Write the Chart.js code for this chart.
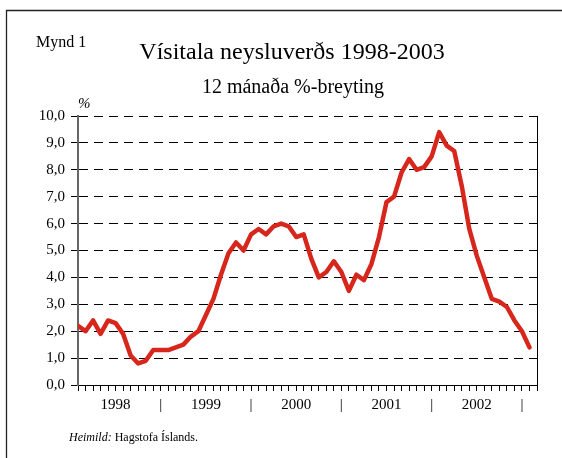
<!DOCTYPE html>
<html>
<head>
<meta charset="utf-8">
<script src="https://cdn.jsdelivr.net/npm/chart.js@4/dist/chart.umd.min.js"></script>
<style>
  html, body { margin: 0; padding: 0; background: #fff; }
  #wrap { width: 562px; height: 458px; }
</style>
</head>
<body>
<div id="wrap"><canvas id="chart" width="562" height="458"></canvas></div>
<script>
// 12 mánaða %-breyting, febrúar 1998 - febrúar 2003 (mánaðarleg gildi)
const values = [
  2.2, 2.0, 2.4, 1.9, 2.4, 2.3, 1.9, 1.1, 0.8, 0.9, 1.3,
  1.3, 1.3, 1.4, 1.5, 1.8, 2.0, 2.6, 3.2, 4.1, 4.9, 5.3, 5.0,
  5.6, 5.8, 5.6, 5.9, 6.0, 5.9, 5.5, 5.6, 4.7, 4.0, 4.2, 4.6,
  4.2, 3.5, 4.1, 3.9, 4.5, 5.5, 6.8, 7.0, 7.9, 8.4, 8.0, 8.1,
  8.5, 9.4, 8.9, 8.7, 7.4, 5.8, 4.8, 4.0, 3.2, 3.1, 2.9, 2.4,
  2.0, 1.4
];
const years = ['1998', '1999', '2000', '2001', '2002'];
const yearLabelAt = [5, 17, 29, 41, 53];
const separatorAt = [11, 23, 35, 47, 59];

const serif = "'Liberation Serif', 'Times New Roman', serif";

const extras = {
  id: 'extras',
  beforeDraw(chart) {
    const ctx = chart.ctx;
    ctx.save();
    ctx.fillStyle = '#fff';
    ctx.fillRect(0, 0, chart.width, chart.height);
    // ramminn
    ctx.strokeStyle = '#222';
    ctx.lineWidth = 1.3;
    ctx.beginPath();
    ctx.moveTo(6.5, 458);
    ctx.lineTo(6.5, 10.5);
    ctx.lineTo(562, 10.5);
    ctx.stroke();
    ctx.restore();
  },
  afterDraw(chart) {
    const ctx = chart.ctx;
    const a = chart.chartArea;
    ctx.save();
    ctx.fillStyle = '#000';
    ctx.textBaseline = 'alphabetic';

    ctx.font = '16px ' + serif;
    ctx.textAlign = 'left';
    ctx.fillText('Mynd 1', 36, 46.5);

    ctx.textAlign = 'center';
    ctx.font = '24px ' + serif;
    ctx.fillText('Vísitala neysluverðs 1998-2003', 292, 59);
    ctx.font = '20px ' + serif;
    ctx.fillText('12 mánaða %-breyting', 293, 93);

    ctx.textAlign = 'left';
    ctx.font = 'italic 15px ' + serif;
    ctx.fillText('%', 78, 108);

    ctx.font = 'italic 12px ' + serif;
    ctx.fillText('Heimild:', 69, 441);
    const w = ctx.measureText('Heimild:').width;
    ctx.font = '12px ' + serif;
    ctx.fillText(' Hagstofa Íslands.', 69 + w, 441);

    // hægri rammi teiknisvæðis
    ctx.strokeStyle = '#000';
    ctx.lineWidth = 1;
    ctx.beginPath();
    ctx.moveTo(Math.round(a.right) + 0.5, a.top);
    ctx.lineTo(Math.round(a.right) + 0.5, a.bottom);
    ctx.stroke();
    ctx.restore();
  }
};

new Chart(document.getElementById('chart'), {
  type: 'line',
  data: {
    datasets: [{
      label: 'Vísitala neysluverðs',
      data: values.map((v, i) => ({ x: i, y: v })),
      borderColor: '#d7261c',
      borderWidth: 4.5,
      pointRadius: 0,
      tension: 0,
      borderJoinStyle: 'round',
      borderCapStyle: 'round',
      fill: false
    }]
  },
  options: {
    responsive: false,
    animation: false,
    layout: { padding: { top: 116, right: 25, left: 0, bottom: 0 } },
    plugins: {
      legend: { display: false },
      tooltip: { enabled: false },
      title: { display: false }
    },
    scales: {
      x: {
        type: 'linear',
        min: 0,
        max: 61,
        afterFit: (scale) => { scale.height = 73; },
        afterBuildTicks: (scale) => {
          const t = [];
          for (let i = 0; i <= 61; i++) t.push({ value: i });
          scale.ticks = t;
        },
        ticks: {
          autoSkip: false,
          maxRotation: 0,
          padding: 5,
          color: '#000',
          font: { family: serif, size: 15 },
          callback: (v) => {
            const k = yearLabelAt.indexOf(v);
            if (k >= 0) return years[k];
            if (separatorAt.includes(v)) return '|';
            return '';
          }
        },
        grid: {
          display: true,
          drawOnChartArea: false,
          drawTicks: true,
          tickLength: 6,
          tickColor: '#000',
          tickWidth: 1
        },
        border: { display: true, color: '#000', width: 1 }
      },
      y: {
        min: 0,
        max: 10,
        afterFit: (scale) => { scale.width = 78; },
        ticks: {
          stepSize: 1,
          padding: 6,
          color: '#000',
          font: { family: serif, size: 15 },
          callback: (v) => v.toFixed(1).replace('.', ',')
        },
        grid: {
          color: '#000',
          lineWidth: 1,
          drawTicks: true,
          tickLength: 7,
          tickColor: '#000',
          tickWidth: 1
        },
        border: { display: true, color: '#666', width: 2, dash: [9, 6] }
      }
    }
  },
  plugins: [extras]
});
</script>
</body>
</html>
